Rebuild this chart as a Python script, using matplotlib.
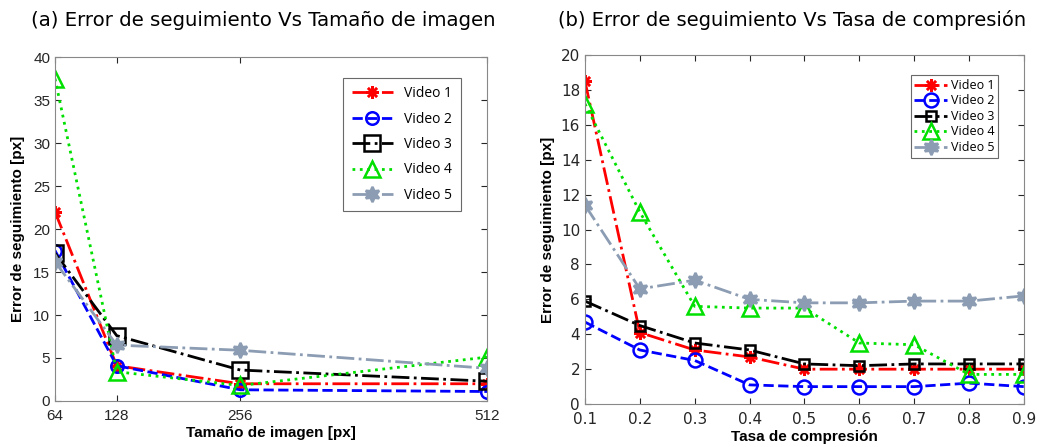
import numpy as np
import matplotlib
matplotlib.use('Agg')
import matplotlib.pyplot as plt

# ── Datos ─────────────────────────────────────────────────────────────────────
sizes = [64, 128, 256, 512]
err_size = {
    'Video 1': [22.0, 4.1, 2.0, 2.0],
    'Video 2': [17.5, 4.1, 1.3, 1.1],
    'Video 3': [17.2, 7.6, 3.6, 2.3],
    'Video 4': [37.5, 3.4, 1.8, 5.1],
    'Video 5': [16.2, 6.5, 5.9, 3.8],
}

rates = [0.1, 0.2, 0.3, 0.4, 0.5, 0.6, 0.7, 0.8, 0.9]
err_rate = {
    'Video 1': [18.5, 4.1, 3.1, 2.7, 2.0, 2.0, 2.0, 2.0, 2.0],
    'Video 2': [4.7, 3.1, 2.5, 1.1, 1.0, 1.0, 1.0, 1.2, 1.0],
    'Video 3': [5.9, 4.5, 3.5, 3.1, 2.3, 2.2, 2.3, 2.3, 2.3],
    'Video 4': [17.2, 11.0, 5.6, 5.5, 5.5, 3.5, 3.4, 1.7, 1.7],
    'Video 5': [11.4, 6.6, 7.1, 6.0, 5.8, 5.8, 5.9, 5.9, 6.2],
}

GRAY5 = '#8c9db3'
styles = {
    'Video 1': dict(color='red', ls='-.', marker=(8, 2, 0)),
    'Video 2': dict(color='blue', ls='--', marker='o', mfc='none'),
    'Video 3': dict(color='black', ls='-.', marker='s', mfc='none'),
    'Video 4': dict(color='#00e000', ls=':', marker='^', mfc='none'),
    'Video 5': dict(color=GRAY5, ls='-.', marker=(6, 1, 0)),
}

fig = plt.figure(figsize=(10.44, 4.47), dpi=100)
fig.patch.set_facecolor('white')
ax1 = fig.add_axes([0.0527, 0.103, 0.4138, 0.769])
ax2 = fig.add_axes([0.5603, 0.096, 0.4205, 0.781])


def style_ax(ax, tickfont, size):
    ax.tick_params(direction='in', top=True, right=True, length=4,
                   labelsize=size, colors='#262626')
    ax.tick_params(axis='x', pad=6)
    for lab in ax.get_xticklabels() + ax.get_yticklabels():
        lab.set_family(tickfont)
    for sp in ax.spines.values():
        sp.set_color('#888888')
        sp.set_linewidth(0.8)


# ── (a) Tamaño de imagen ──────────────────────────────────────────────────────
msize_a = {'Video 1': 9, 'Video 2': 9, 'Video 3': 11, 'Video 4': 11, 'Video 5': 11}
for name, vals in err_size.items():
    st = styles[name]
    ax1.plot(sizes, vals, color=st['color'], ls=st['ls'], marker=st['marker'],
             mfc=st.get('mfc', st['color']), mec=st['color'], ms=msize_a[name],
             lw=2, mew=1.8, label=name)
ax1.set_xlim(64, 512)
ax1.set_ylim(0, 40)
ax1.set_xticks(sizes)
ax1.set_yticks(np.arange(0, 41, 5))
style_ax(ax1, 'Liberation Sans', 11)
ax1.set_xlabel('Tamaño de imagen [px]', fontsize=11, fontweight='bold',
               family='Liberation Sans', labelpad=2)
ax1.set_ylabel('Error de seguimiento [px]', fontsize=11, fontweight='bold',
               family='Liberation Sans', labelpad=6)
leg1 = ax1.legend(loc='upper right', bbox_to_anchor=(0.955, 0.96),
                  fancybox=False, edgecolor='#444444',
                  prop={'family': 'Open Sans', 'size': 10},
                  handlelength=3.0, borderpad=0.6, labelspacing=0.75)
leg1.get_frame().set_linewidth(0.8)

# ── (b) Tasa de compresión ────────────────────────────────────────────────────
msize_b = {'Video 1': 9, 'Video 2': 10, 'Video 3': 7, 'Video 4': 11, 'Video 5': 11}
for name, vals in err_rate.items():
    st = styles[name]
    ax2.plot(rates, vals, color=st['color'], ls=st['ls'], marker=st['marker'],
             mfc=st.get('mfc', st['color']), mec=st['color'], ms=msize_b[name],
             lw=2, mew=1.8, label=name)
ax2.set_xlim(0.1, 0.9)
ax2.set_ylim(0, 20)
ax2.set_xticks(rates)
ax2.set_yticks(np.arange(0, 21, 2))
style_ax(ax2, 'DejaVu Sans', 11)
ax2.set_xlabel('Tasa de compresión', fontsize=11, fontweight='bold',
               family='Liberation Sans', labelpad=2)
ax2.set_ylabel('Error de seguimiento [px]', fontsize=11, fontweight='bold',
               family='Liberation Sans', labelpad=4)
leg2 = ax2.legend(loc='upper right', bbox_to_anchor=(0.955, 0.96),
                  fancybox=False, edgecolor='#444444',
                  prop={'family': 'Open Sans', 'size': 9},
                  handlelength=2.6, borderpad=0.3, labelspacing=0.2,
                  handletextpad=0.3)
leg2.get_frame().set_linewidth(0.8)

# ── Títulos ───────────────────────────────────────────────────────────────────
fig.text(263 / 1044, 1 - 20 / 447, '(a) Error de seguimiento Vs Tamaño de imagen',
         fontsize=14.2, family='DejaVu Sans', ha='center', va='center')
fig.text(792 / 1044, 1 - 20 / 447, '(b) Error de seguimiento Vs Tasa de compresión',
         fontsize=14.0, family='DejaVu Sans', ha='center', va='center')

fig.savefig('out.png', dpi=100, facecolor='white')
